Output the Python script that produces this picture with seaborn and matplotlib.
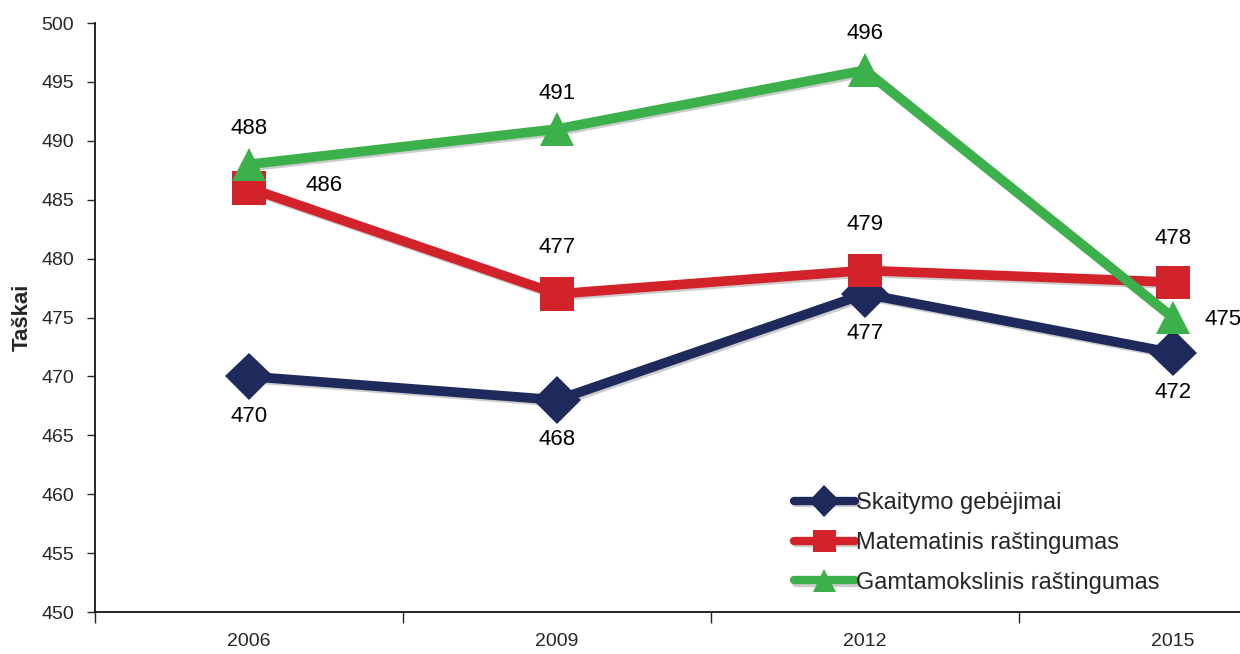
import matplotlib
matplotlib.use('Agg')
import matplotlib.pyplot as plt
import matplotlib.patheffects as pe
import seaborn as sns
import pandas as pd

years = ['2006', '2009', '2012', '2015']
skaitymo = [470, 468, 477, 472]
matematinis = [486, 477, 479, 478]
gamtamokslinis = [488, 491, 496, 475]
series_names = ['Skaitymo gebėjimai', 'Matematinis raštingumas', 'Gamtamokslinis raštingumas']
colors = ['#1f2a5c', '#d2232a', '#3cb04a']
markers = ['D', 's', '^']

rows = []
for name, vals in zip(series_names, [skaitymo, matematinis, gamtamokslinis]):
    for i, (y, v) in enumerate(zip(years, vals)):
        rows.append({'pos': i, 'year': y, 'score': v, 'series': name})
df = pd.DataFrame(rows)

sns.set_style('white')
plt.rcParams['font.family'] = ['Liberation Sans', 'DejaVu Sans']

fig = plt.figure(figsize=(12.4, 6.54), dpi=100)
ax = fig.add_axes([0.0766, 0.0642, 0.9935, 0.9006])

shadow = [pe.SimpleLineShadow(offset=(1.5, -1.5), alpha=0.2), pe.Normal()]
sns.lineplot(data=df, x='pos', y='score', hue='series', style='series',
             hue_order=series_names, style_order=series_names,
             palette=colors, markers=markers, dashes=False,
             linewidth=7, markersize=24, markeredgewidth=0, ax=ax,
             path_effects=shadow)

# value labels
offsets = {
    series_names[0]: [(0, -40), (0, -40), (0, -40), (0, -40)],
    series_names[1]: [(75, 2), (0, 46), (0, 46), (0, 44)],
    series_names[2]: [(0, 36), (0, 36), (0, 37), (50, -2)],
}
for name in series_names:
    sub = df[df['series'] == name]
    for (_, r), off in zip(sub.iterrows(), offsets[name]):
        ax.annotate(str(r['score']), (r['pos'], r['score']), xytext=off,
                    textcoords='offset pixels',
                    ha='center', va='center', fontsize=16, color='black')

ax.set_xlim(-0.5, 3.5)
ax.set_ylim(450, 500)
ax.set_yticks(range(450, 501, 5))
ax.set_xticks(range(len(years)))
ax.set_xticklabels(years)
ax.set_xticks([-0.5, 0.5, 1.5, 2.5], minor=True)
ax.tick_params(axis='x', which='major', length=0, labelsize=14, pad=15)
ax.tick_params(axis='x', which='minor', length=8, width=1, direction='out', bottom=True)
ax.tick_params(axis='y', length=6, width=1, direction='out', left=True, labelsize=14, pad=9)
ax.set_xlabel('')
ax.set_ylabel('Taškai', fontsize=16, fontweight='bold', labelpad=6)

for s in ['top', 'right']:
    ax.spines[s].set_visible(False)
for s in ['left', 'bottom']:
    ax.spines[s].set_color('black')
    ax.spines[s].set_linewidth(1.2)

leg = ax.legend(loc='lower left', bbox_to_anchor=(0.55, -0.005), frameon=False,
                fontsize=17, handlelength=2.6, handletextpad=0.05, labelspacing=0.75)
for line in leg.get_lines():
    line.set_linewidth(6)
    line.set_markersize(16)

fig.savefig('out.png', dpi=100)
